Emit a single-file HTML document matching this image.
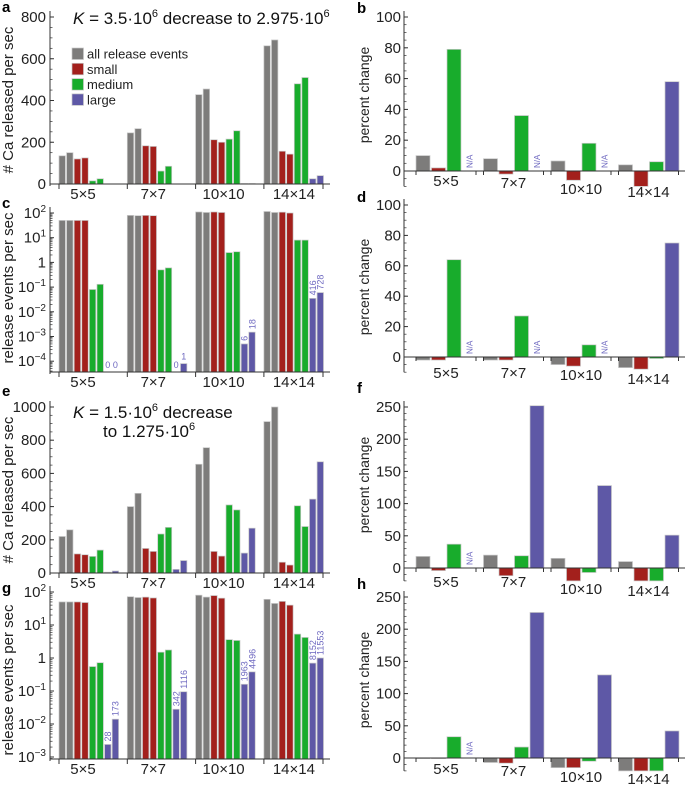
<!DOCTYPE html>
<html><head><meta charset="utf-8">
<style>
html,body{margin:0;padding:0;background:#fff;}
svg{display:block;font-family:"Liberation Sans",Arial,sans-serif;}
</style></head>
<body>
<svg id="fig" width="685" height="785" viewBox="0 0 685 785" xmlns="http://www.w3.org/2000/svg"></svg>
<script>
const groups=["5×5","7×7","10×10","14×14"];
// panel a (# Ca released per sec), two bars per series per group
const aGray=[[135,150],[245,265],[428,455],[662,690]];
const aRed=[[120,125],[183,180],[212,200],[157,143]];
const aGreen=[[15,25],[62,85],[215,255],[480,510]];
const aBlue=[[0,0],[0,0],[2,2],[25,40]];
// panel c (release events per sec, log)
const cGray=[[50,50],[80,78],[110,105],[115,105]];
const cRed=[[50,50],[80,78],[110,105],[108,100]];
const cGreen=[[0.08,0.13],[0.5,0.6],[2.5,2.7],[8,8]];
const cBlue=[[0,0],[0,0.00008],[0.0005,0.0015],[0.035,0.06]];
const cBlueLabels=[["0","0"],["0","1"],["6","18"],["416","728"]];
// panel e
const eGray=[[220,260],[400,480],[655,755],[912,1000]];
const eRed=[[115,110],[148,130],[130,102],[65,48]];
const eGreen=[[100,138],[235,275],[410,380],[405,280]];
const eBlue=[[5,12],[22,75],[120,270],[445,670]];
// panel g
const gGray=[[50,50],[72,68],[80,70],[60,45]];
const gRed=[[50,48],[70,66],[78,65],[52,40]];
const gGreen=[[0.55,0.72],[1.5,1.75],[3.6,3.4],[5.3,4.2]];
const gBlue=[[0.0024,0.014],[0.028,0.095],[0.16,0.38],[0.7,1.0]];
const gBlueLabels=[["28","173"],["342","1116"],["1963","4496"],["8152","11553"]];
// percent change panels (null = N/A)
const bGray=[10,8,6.5,4], bRed=[2,-2,-6,-10], bGreen=[79,36,18,6], bBlue=[null,null,null,58];
const dGray=[-2,-2,-5,-7], dRed=[-2,-2,-6,-8], dGreen=[64,27,8,-1], dBlue=[null,null,null,75];
const fGray=[18,20,15,10], fRed=[-4,-12,-20,-20], fGreen=[37,19,-7,-20], fBlue=[null,252,128,51];
const hGray=[0,-7,-15,-20], hRed=[0,-8,-15,-20], hGreen=[33,17,-5,-20], hBlue=[null,226,129,42];
const legendLabels=["all release events","small","medium","large"];

const COL=["#7d7c7b","#a3201c","#18ac2c","#5e58a6"];
const NS="http://www.w3.org/2000/svg";
const svg=document.getElementById("fig");
function el(tag,attrs,parent){const e=document.createElementNS(NS,tag);for(const k in attrs)e.setAttribute(k,attrs[k]);(parent||svg).appendChild(e);return e;}
function txt(s,x,y,size,anchor,parent,extra){const t=el("text",Object.assign({x:x,y:y,"font-size":size,"text-anchor":anchor||"middle",fill:"#222"},extra||{}),parent);t.textContent=s;return t;}

function panelLabel(ch,x,y){
  const t=txt(ch,x,y,15,"start",svg,{"font-weight":"bold",fill:"#000"});
  
  
}

// ---------- left panels ----------
function leftPanel(id,sets,yfn,yBase,ticks,minor,tickLabelFn,yTitle,titleY,blueLabels){
  const g=el("g",{});
  
  
  const ax=50,xEnd=330;
  for(let gi=0;gi<4;gi++){
    for(let s=0;s<4;s++){
      for(let k=0;k<2;k++){
        const v=sets[s][gi][k];
        const x=59+gi*68.3+(s*2+k)*7.6;
        if(v>0){
          const y=Math.min(yfn(v),yBase);
          const r=el("rect",{x:x,y:y,width:6.4,height:Math.max(0.5,yBase-y),fill:COL[s],stroke:"#c8c8c8","stroke-width":0.7},g);
          
          
        }
        if(s===3&&blueLabels){
          const lab=blueLabels[gi][k];
          let t;
          if(v>0 && (lab.length>1 || gi>1)){
            const y=yfn(v)-3;
            t=txt(lab,0,0,9,"start",g,{fill:"#6e68c0",transform:"translate("+(x+6.5)+","+y+") rotate(-90)"});
          } else if(v>0){
            t=txt(lab,x+3.2,yfn(v)-4,9,"middle",g,{fill:"#6e68c0"});
          } else {
            t=txt(lab,x+3.2,yBase-4,9,"middle",g,{fill:"#6e68c0"});
          }
          
          
        }
      }
    }
  }
  const ya=el("line",{x1:ax,y1:yfn(ticks[ticks.length-1])-6,x2:ax,y2:yBase+2,stroke:"#333","stroke-width":1},g);
  
  
  const xa=el("line",{x1:ax,y1:yBase,x2:xEnd,y2:yBase,stroke:"#333","stroke-width":1},g);
  
  
  ticks.forEach(tv=>{
    const y=yfn(tv);
    el("line",{x1:ax,y1:y,x2:ax+4,y2:y,stroke:"#333","stroke-width":1},g);
    const t=tickLabelFn(tv,ax-4,y+5,g);
    
    
  });
  minor.forEach(mv=>{const y=yfn(mv);if(y<=yBase&&y>=yfn(ticks[ticks.length-1])-6)el("line",{x1:ax,y1:y,x2:ax+2.5,y2:y,stroke:"#333","stroke-width":0.7},g);});
  for(let gi=0;gi<=4;gi++){
    const x=gi<4?59+gi*68.3:323;
    el("line",{x1:x,y1:yBase,x2:x,y2:yBase+5,stroke:"#333","stroke-width":1},g);
  }
  groups.forEach((lab,gi)=>{
    const t=txt(lab,83+gi*70.3,yBase+15,15,"middle",g);
    
    
  });
  const yt=txt(yTitle,0,0,15,"middle",g,{transform:"translate(13,"+titleY+") rotate(-90)"});
  
  
}
function linLabel(v,x,y,g){return txt(String(v),x,y,15,"end",g);}
function logLabel(v,x,y,g){
  const e=Math.round(Math.log10(v));
  if(e===0)return txt("1",x,y,15,"end",g);
  const t=el("text",{x:x,y:y,"font-size":15,"text-anchor":"end",fill:"#222"},g);
  const a=el("tspan",{},t);
  a.textContent="10";
  const s=el("tspan",{dy:-6,"font-size":10},t);
  s.textContent=e<0?"−"+(-e):String(e);
  return t;
}
function logMinor(lo,hi){const a=[];for(let e=lo;e<hi;e++)for(let m=2;m<=9;m++)a.push(m*Math.pow(10,e));return a;}
function range(a,b,s){const r=[];for(let v=a;v<=b+1e-9;v+=s)r.push(v);return r;}

leftPanel("a",[aGray,aRed,aGreen,aBlue],v=>184-v*(167/800),184,[0,200,400,600,800],range(0,800,50),linLabel,"# Ca released per sec",100);
leftPanel("c",[cGray,cRed,cGreen,cBlue],v=>213-(Math.log10(v)-2)*24.7,372,[1e-4,1e-3,1e-2,1e-1,1,10,100],logMinor(-5,2),logLabel,"release events per sec",288,cBlueLabels);
leftPanel("e",[eGray,eRed,eGreen,eBlue],v=>573-v*(166/1000),573,[0,200,400,600,800,1000],range(0,1000,50),linLabel,"# Ca released per sec",490);
leftPanel("g",[gGray,gRed,gGreen,gBlue],v=>592-(Math.log10(v)-2)*33,759,[1e-3,1e-2,1e-1,1,10,100],logMinor(-4,2),logLabel,"release events per sec",680,gBlueLabels);

const leg=el("g",{});


legendLabels.forEach((lab,i)=>{
  const y=48+i*15.3;
  const r=el("rect",{x:72,y:y,width:11.5,height:11.5,fill:COL[i],stroke:"#c8c8c8","stroke-width":0.7},leg);
  
  
  const t=txt(lab,87,y+10.5,13,"start",leg);
  
  
});
function kTitle(parts,x,y){
  const t=el("text",{x:x,y:y,"font-size":17,"text-anchor":"start",fill:"#111"});
  parts.forEach(p=>{const s=el("tspan",p.a||{},t);s.textContent=p.t;});
  return t;
}
let t1=kTitle([{t:"K",a:{"font-style":"italic"}},{t:" = 3.5·10"},{t:"6",a:{dy:-7,"font-size":11}},{t:" decrease to 2.975·10",a:{dy:7}},{t:"6",a:{dy:-7,"font-size":11}}],73,24);


let t2=kTitle([{t:"K",a:{"font-style":"italic"}},{t:" = 1.5·10"},{t:"6",a:{dy:-7,"font-size":11}},{t:" decrease",a:{dy:7}}],73,418);


let t3=kTitle([{t:"to 1.275·10"},{t:"6",a:{dy:-7,"font-size":11}}],103,437);



function rightPanel(id,series,yTop,yZero,maxV,minV,step,minorStep,labelYs,titleY){
  const g=el("g",{});
  
  
  const k=(yZero-yTop)/maxV;
  const yf=v=>yZero-v*k;
  const yBot=yf(minV);
  const ax=404;
  for(let gi=0;gi<4;gi++){
    const gx=416+gi*67.5;
    for(let s=0;s<4;s++){
      const v=series[s][gi];
      const x=gx+s*15.5;
      if(v===null){
        const t=txt("N/A",0,0,8,"start",g,{fill:"#6e68c0",transform:"translate("+(x+10)+","+(yZero-3)+") rotate(-90)"});
        
        
        continue;
      }
      const vv=Math.max(v,minV);
      const y1=Math.min(yf(vv),yZero), y2=Math.max(yf(vv),yZero);
      const r=el("rect",{x:x,y:y1,width:14,height:Math.max(0.6,y2-y1),fill:COL[s],stroke:"#c8c8c8","stroke-width":0.7},g);
      
      
    }
    el("line",{x1:gx,y1:yZero,x2:gx,y2:yZero+4,stroke:"#333","stroke-width":1},g);
    el("line",{x1:gx+60,y1:yZero,x2:gx+60,y2:yZero+4,stroke:"#333","stroke-width":1},g);
    const t=txt(groups[gi],gx+30,labelYs[gi],15,"middle",g);
    
    
  }
  const ya=el("line",{x1:ax,y1:yTop-6,x2:ax,y2:yBot,stroke:"#333","stroke-width":1},g);
  
  
  const xa=el("line",{x1:ax,y1:yZero,x2:685,y2:yZero,stroke:"#333","stroke-width":1},g);
  
  
  range(0,maxV,step).forEach(v=>{
    const y=yf(v);
    el("line",{x1:ax,y1:y,x2:ax+4,y2:y,stroke:"#333","stroke-width":1},g);
    const t=txt(String(v),ax-3,y+5,15,"end",g);
    
    
  });
  for(let v=minV;v<=maxV+1e-9;v+=minorStep){const y=yf(v);el("line",{x1:ax,y1:y,x2:ax+2.5,y2:y,stroke:"#333","stroke-width":0.7},g);}
  const yt=txt("percent change",0,0,14,"middle",g,{transform:"translate(369,"+titleY+") rotate(-90)"});
  
  
}
rightPanel("b",[bGray,bRed,bGreen,bBlue],17,171,100,-10,20,5,[186,188,194,197],95);
rightPanel("d",[dGray,dRed,dGreen,dBlue],205,357,100,-10,20,5,[378,378,380,384],287);
rightPanel("f",[fGray,fRed,fGreen,fBlue],407,568,250,-20,50,10,[587,587,594,596],485);
rightPanel("h",[hGray,hRed,hGreen,hBlue],597,758,250,-20,50,10,[774,776,782,784],680);

panelLabel("a",2,12);
panelLabel("b",357,13);
panelLabel("c",2,208);
panelLabel("d",357,202);
panelLabel("e",2,396);
panelLabel("f",357,393);
panelLabel("g",2,593);
panelLabel("h",357,589);
</script>
</body></html>
